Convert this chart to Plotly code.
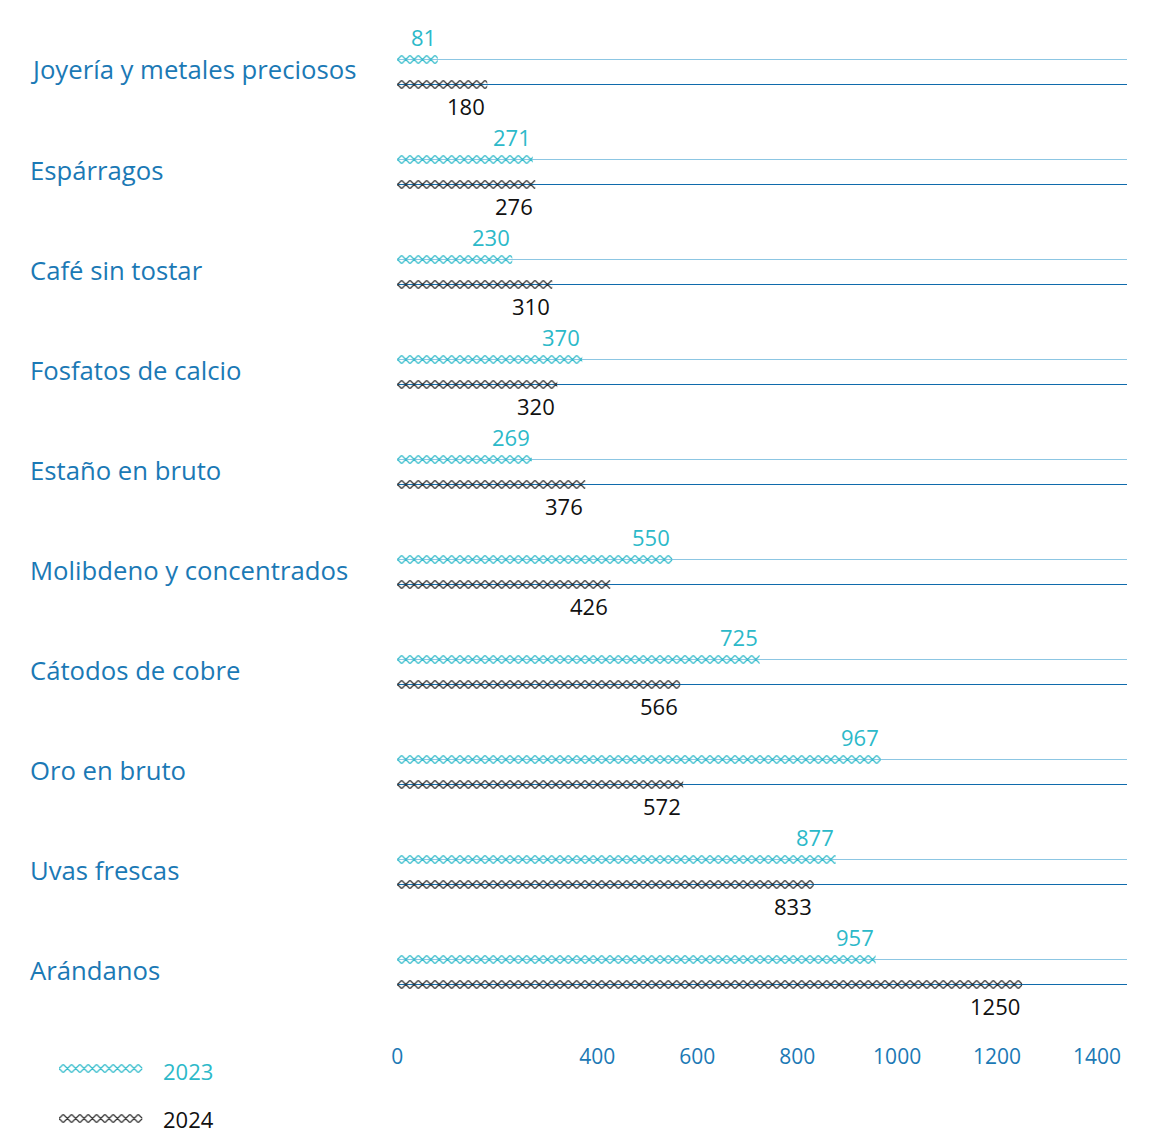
import math
import plotly.graph_objects as go

# # Data
productos = ['Joyería y metales preciosos', 'Espárragos', 'Café sin tostar',
             'Fosfatos de calcio', 'Estaño en bruto', 'Molibdeno y concentrados',
             'Cátodos de cobre', 'Oro en bruto', 'Uvas frescas', 'Arándanos']
valores_2023 = [81, 271, 230, 370, 269, 550, 725, 967, 877, 957]
valores_2024 = [180, 276, 310, 320, 376, 426, 566, 572, 833, 1250]
ticks_x = [0, 400, 600, 800, 1000, 1200, 1400]
anios = ['2023', '2024']

# # Style
W, H = 1151, 1133
FONT = 'Open Sans'
TEAL = '#2cb9c9'
DARK = '#2b2b2b'
BLUE_TXT = '#1b79b5'
TRACK_23 = '#8cc6e3'
TRACK_24 = '#106bac'
TILE = 100 / 12  # diamond width in px (pattern tile)
PAT_SIZE = TILE / math.sqrt(2)  # plotly 'x' tile = size * sqrt(2)

# plot area in pixels (figure has no margins, domains set in px)
PL, PR, PT, PB = 392, 1127, 22, 1022


def px_x(a, b):
    return [a / W, b / W]


def px_y(top, bottom):
    return [1 - bottom / H, 1 - top / H]


def diamonds(color):
    return dict(color='rgba(0,0,0,0)', line=dict(width=0),
                pattern=dict(shape='x', size=PAT_SIZE, solidity=0.36, fgcolor=color,
                             bgcolor='rgba(0,0,0,0)', fillmode='replace'))


fig = go.Figure()

fig.add_trace(go.Bar(y=productos, x=valores_2023, orientation='h', name='2023',
                     marker=diamonds(TEAL), hoverinfo='x+y'))
fig.add_trace(go.Bar(y=productos, x=valores_2024, orientation='h', name='2024',
                     marker=diamonds(DARK), hoverinfo='x+y'))

# legend swatches on their own little axes
fig.add_trace(go.Bar(y=[0], x=[83.33], orientation='h', width=TILE / 50,
                     marker=diamonds(TEAL), xaxis='x2', yaxis='y2', hoverinfo='skip'))
fig.add_trace(go.Bar(y=[1], x=[83.33], orientation='h', width=TILE / 50,
                     marker=diamonds(DARK), xaxis='x2', yaxis='y2', hoverinfo='skip'))

# tracks
for i in range(len(productos)):
    for off, col in [(-0.125, TRACK_23), (0.125, TRACK_24)]:
        fig.add_shape(type='line', xref='x', yref='y', x0=0, x1=1460,
                      y0=i + off, y1=i + off, layer='below',
                      line=dict(color=col, width=1.2))

# category labels
for p in productos:
    fig.add_annotation(x=26 / W, xref='paper', xanchor='left', y=p, yref='y',
                       yshift=2, text=p, showarrow=False,
                       font=dict(family=FONT, size=25.7, color=BLUE_TXT))

# value labels
for p, v in zip(productos, valores_2023):
    fig.add_annotation(x=v, y=p, xref='x', yref='y', xanchor='right',
                       yshift=35, text=str(v), showarrow=False,
                       font=dict(family=FONT, size=22, color=TEAL))
for p, v in zip(productos, valores_2024):
    fig.add_annotation(x=v, y=p, xref='x', yref='y', xanchor='right',
                       yshift=-34, text=str(v), showarrow=False,
                       font=dict(family=FONT, size=22, color='#111111'))

# legend labels
for k, (a, c) in enumerate(zip(anios, [TEAL, '#111111'])):
    fig.add_annotation(x=159 / W, xref='paper', xanchor='left', y=k, yref='y2',
                       text=a, showarrow=False, yshift=-2 if k == 0 else 0,
                       font=dict(family=FONT, size=22, color=c))

fig.update_layout(
    width=W, height=H,
    margin=dict(l=0, r=0, t=0, b=0),
    paper_bgcolor='white', plot_bgcolor='white',
    showlegend=False,
    barmode='group', bargap=0.5, bargroupgap=2 / 3,
    xaxis=dict(domain=px_x(PL, PR), range=[-8, 1460], tickvals=ticks_x,
               showgrid=False, zeroline=False, showline=False,
               ticks='', ticklabelstandoff=20,
               tickfont=dict(family=FONT, size=21, color=BLUE_TXT)),
    yaxis=dict(domain=px_y(PT, PB), type='category', range=[9.5, -0.5],
               showticklabels=False, showgrid=False, zeroline=False,
               showline=False, ticks=''),
    xaxis2=dict(domain=px_x(53, 143), range=[-4.17, 85.83], anchor='y2',
                visible=False),
    yaxis2=dict(domain=px_y(1056, 1133), range=[1.29, -0.25], anchor='x2',
                visible=False),
)

# the page body has a default 8px margin; drop it so the figure fills the window
fig.write_html('out.html', config={'displayModeBar': False},
               post_script="document.body.style.margin='0px';")
